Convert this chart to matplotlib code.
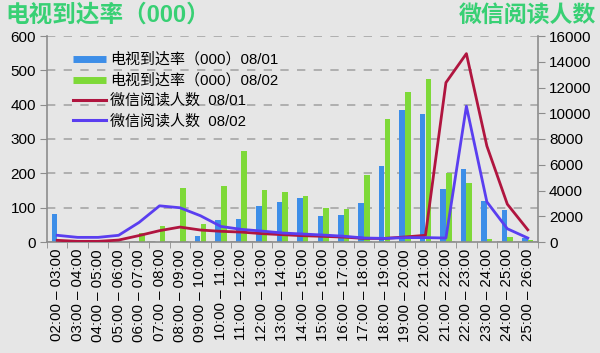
import matplotlib
matplotlib.use("Agg")
import matplotlib.pyplot as plt
import numpy as np
from matplotlib.lines import Line2D

plt.rcParams['font.family'] = ['Liberation Sans', 'Noto Sans CJK SC', 'DejaVu Sans']

hours = list(range(2, 26))
labels = ["%02d:00 – %02d:00" % (h, h + 1) for h in hours]

tv_0801 = [81, 0, 0, 0, 0, 0, 0, 18, 65, 68, 105, 116, 128, 76, 79, 113,
           220, 384, 373, 154, 214, 120, 94, 12]
tv_0802 = [0, 0, 0, 0, 26, 48, 157, 52, 164, 265, 152, 146, 135, 100, 97, 194,
           358, 437, 476, 200, 173, 8, 14, 5]
wx_0801 = [130, 50, 50, 150, 500, 880, 1160, 930, 830, 770, 650, 570, 490, 440,
           380, 280, 280, 390, 520, 12380, 14630, 7460, 2940, 950]
wx_0802 = [520, 360, 360, 520, 1520, 2810, 2660, 2040, 1210, 980, 850, 700, 620,
           540, 450, 310, 280, 340, 340, 310, 10550, 3120, 1030, 310]

bg = '#e6e6e6'
c_blue = '#3d8ee8'
c_green = '#7ed938'
c_red = '#b0153f'
c_purple = '#5a3ef0'
c_title = '#38d074'
c_axis = '#8c8c8c'

fig = plt.figure(figsize=(6, 3.53), dpi=100, facecolor=bg)
ax = fig.add_axes([47 / 600, 1 - 242 / 353, (538 - 47) / 600, (242 - 36) / 353])
ax.set_facecolor(bg)

x = np.arange(len(labels))
w = 0.27
ax.bar(x - 0.14, tv_0801, width=w, color=c_blue, zorder=2)
ax.bar(x + 0.14, tv_0802, width=w, color=c_green, zorder=2)
ax.set_ylim(0, 600)
ax.set_yticks(range(0, 601, 100))
ax.set_xlim(-0.5, len(labels) - 0.5)
ax.set_xticks(x)
ax.set_xticklabels(labels, rotation=90, fontsize=10.8)
ax.set_xticks(np.arange(-0.5, len(labels), 1), minor=True)
ax.tick_params(axis='x', which='major', length=0, pad=5)
ax.tick_params(axis='x', which='minor', length=4, color=c_axis)
ax.tick_params(axis='y', length=5, color=c_axis, labelsize=11, pad=3)
ax.yaxis.grid(True, linestyle=(0, (5, 5)), color='#a6a6a6', linewidth=1.2, zorder=0)
ax.set_axisbelow(True)
for s in ['top', 'right']:
    ax.spines[s].set_visible(False)
for s in ['left', 'bottom']:
    ax.spines[s].set_color(c_axis)
    ax.spines[s].set_linewidth(1.2)

ax2 = ax.twinx()
ax2.plot(x, wx_0801, color=c_red, linewidth=2, zorder=3)
ax2.plot(x, wx_0802, color=c_purple, linewidth=2, zorder=3)
ax2.set_ylim(0, 16000)
ax2.set_yticks(range(0, 16001, 2000))
ax2.tick_params(axis='y', length=5, color=c_axis, labelsize=11, pad=3)
for s in ['top', 'left', 'bottom']:
    ax2.spines[s].set_visible(False)
ax2.spines['right'].set_color(c_axis)
ax2.spines['right'].set_linewidth(1.2)

handles = [Line2D([], [], color=c_blue, linewidth=5, solid_capstyle='butt'),
           Line2D([], [], color=c_green, linewidth=5, solid_capstyle='butt'),
           Line2D([], [], color=c_red, linewidth=2.2),
           Line2D([], [], color=c_purple, linewidth=2.2)]
names = ["电视到达率（000）08/01", "电视到达率（000）08/02",
         "微信阅读人数  08/01", "微信阅读人数  08/02"]
ax2.legend(handles, names, loc='upper left', bbox_to_anchor=(0.025, 0.985),
           frameon=False, fontsize=10.8, handlelength=2.2, handletextpad=0.3,
           labelspacing=0.42)

fig.text(5 / 600, 1 - 15 / 353, "电视到达率（000）", color=c_title, fontsize=17,
         fontweight='bold', ha='left', va='center')
fig.text(596 / 600, 1 - 15 / 353, "微信阅读人数", color=c_title, fontsize=16.5,
         fontweight='bold', ha='right', va='center')

fig.savefig("out.png", dpi=100, facecolor=bg)
